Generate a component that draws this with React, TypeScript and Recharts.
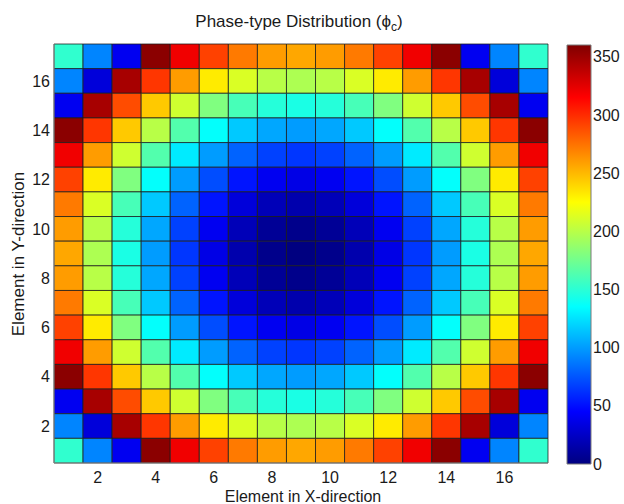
import { ComposedChart, XAxis, YAxis, Scatter, ReferenceArea } from "recharts";

// element indices along each direction
const columnIndex = [1, 2, 3, 4, 5, 6, 7, 8, 9, 10, 11, 12, 13, 14, 15, 16, 17];
const rowIndex = [1, 2, 3, 4, 5, 6, 7, 8, 9, 10, 11, 12, 13, 14, 15, 16, 17];
const xTicks = [2, 4, 6, 8, 10, 12, 14, 16];
const yTicks = [2, 4, 6, 8, 10, 12, 14, 16];
const colorTicks = [0, 50, 100, 150, 200, 250, 300, 350];

// phase value per element, rows listed from the top row (17) to the bottom row (1)
const phaseRows: number[][] = [
	[152, 92, 40, 356, 320, 292, 272, 260, 256, 260, 272, 292, 320, 356, 40, 92, 152],
	[92, 32, 346, 296, 260, 232, 212, 200, 196, 200, 212, 232, 260, 296, 346, 32, 92],
	[40, 346, 288, 244, 208, 180, 160, 148, 144, 148, 160, 180, 208, 244, 288, 346, 40],
	[356, 296, 244, 200, 164, 136, 116, 104, 100, 104, 116, 136, 164, 200, 244, 296, 356],
	[320, 260, 208, 164, 128, 100, 80, 68, 64, 68, 80, 100, 128, 164, 208, 260, 320],
	[292, 232, 180, 136, 100, 72, 52, 40, 36, 40, 52, 72, 100, 136, 180, 232, 292],
	[272, 212, 160, 116, 80, 52, 32, 20, 16, 20, 32, 52, 80, 116, 160, 212, 272],
	[260, 200, 148, 104, 68, 40, 20, 8, 4, 8, 20, 40, 68, 104, 148, 200, 260],
	[256, 196, 144, 100, 64, 36, 16, 4, 0, 4, 16, 36, 64, 100, 144, 196, 256],
	[260, 200, 148, 104, 68, 40, 20, 8, 4, 8, 20, 40, 68, 104, 148, 200, 260],
	[272, 212, 160, 116, 80, 52, 32, 20, 16, 20, 32, 52, 80, 116, 160, 212, 272],
	[292, 232, 180, 136, 100, 72, 52, 40, 36, 40, 52, 72, 100, 136, 180, 232, 292],
	[320, 260, 208, 164, 128, 100, 80, 68, 64, 68, 80, 100, 128, 164, 208, 260, 320],
	[356, 296, 244, 200, 164, 136, 116, 104, 100, 104, 116, 136, 164, 200, 244, 296, 356],
	[40, 346, 288, 244, 208, 180, 160, 148, 144, 148, 160, 180, 208, 244, 288, 346, 40],
	[92, 32, 346, 296, 260, 232, 212, 200, 196, 200, 212, 232, 260, 296, 346, 32, 92],
	[152, 92, 40, 356, 320, 292, 272, 260, 256, 260, 272, 292, 320, 356, 40, 92, 152],
];

const MAX_PHASE = 360;

const clamp = (v: number) => Math.max(0, Math.min(1, v));

// matlab "jet" colormap
const jet = (value: number) => {
	const t = clamp(value / MAX_PHASE);
	const r = clamp(Math.min(4 * t - 1.5, -4 * t + 4.5));
	const g = clamp(Math.min(4 * t - 0.5, -4 * t + 3.5));
	const b = clamp(Math.min(4 * t + 0.5, -4 * t + 2.5));
	return `rgb(${Math.round(r * 255)},${Math.round(g * 255)},${Math.round(b * 255)})`;
};

const cells = phaseRows.flatMap((row, i) =>
	row.map((value, j) => ({
		x: columnIndex[j],
		y: rowIndex[rowIndex.length - 1 - i],
		value,
	}))
);

const FONT = "'Liberation Sans', Arial, Helvetica, sans-serif";
const tickStyle = { fontSize: 16, fill: "#1a1a1a", fontFamily: FONT };

const App = () => {
	return (
		<div style={{ position: "absolute", left: 0, top: 0, width: 624, height: 504, background: "#fff" }}>
			<ComposedChart
				width={624}
				height={504}
				margin={{ top: 44, right: 76, bottom: 11, left: 14 }}
				data={cells}
				style={{ position: "absolute", left: 0, top: 0 }}
			>
				<XAxis
					dataKey="x"
					type="number"
					domain={[0.5, 17.5]}
					allowDataOverflow
					ticks={xTicks}
					height={30}
					tickLine={false}
					tickSize={7}
					tickMargin={2}
					axisLine={{ stroke: "#8a8a8a" }}
					tick={tickStyle}
				/>
				<YAxis
					dataKey="y"
					type="number"
					domain={[0.5, 17.5]}
					allowDataOverflow
					ticks={yTicks}
					width={40}
					tickLine={false}
					tickSize={2}
					tickMargin={2}
					axisLine={{ stroke: "#8a8a8a" }}
					tick={tickStyle}
				/>
				{cells.map((c) => (
					<ReferenceArea
						key={`${c.x}-${c.y}`}
						x1={c.x - 0.5}
						x2={c.x + 0.5}
						y1={c.y - 0.5}
						y2={c.y + 0.5}
						fill={jet(c.value)}
						fillOpacity={1}
						stroke="#1c1c1c"
						strokeWidth={0.9}
						strokeOpacity={0.85}
					/>
				))}
				<Scatter dataKey="y" isAnimationActive={false} shape={() => <g />} />
			</ComposedChart>

			<ComposedChart
				width={64}
				height={504}
				margin={{ top: 45, right: 0, bottom: 40, left: 7 }}
				data={colorTicks.map((v) => ({ x: 0.5, v }))}
				style={{ position: "absolute", left: 560, top: 0 }}
			>
				<defs>
					<linearGradient id="jetBar" x1="0" y1="1" x2="0" y2="0">
						{[0, 0.125, 0.25, 0.375, 0.5, 0.625, 0.75, 0.875, 1].map((o) => (
							<stop key={o} offset={o} stopColor={jet(o * MAX_PHASE)} />
						))}
					</linearGradient>
				</defs>
				<XAxis dataKey="x" type="number" domain={[0, 1]} hide />
				<YAxis
					dataKey="v"
					orientation="right"
					type="number"
					domain={[0, MAX_PHASE]}
					allowDataOverflow
					ticks={colorTicks}
					width={33}
					tickLine={false}
					tickSize={1}
					tickMargin={1}
					axisLine={false}
					tick={tickStyle}
				/>
				<ReferenceArea
					x1={0}
					x2={1}
					y1={0}
					y2={MAX_PHASE}
					fill="url(#jetBar)"
					fillOpacity={1}
					stroke="#7a7a7a"
					strokeWidth={1}
				/>
				<Scatter dataKey="v" isAnimationActive={false} shape={() => <g />} />
			</ComposedChart>

			<svg
				width={624}
				height={504}
				style={{ position: "absolute", left: 0, top: 0, pointerEvents: "none" }}
				fontFamily={FONT}
				fill="#1a1a1a"
			>
				<text x={299} y={27} fontSize={17} textAnchor="middle">
					Phase-type Distribution (ϕ
					<tspan fontSize={12} dy={4}>c</tspan>
					<tspan dy={-4}>)</tspan>
				</text>
				<text x={303} y={502} fontSize={16} textAnchor="middle">
					Element in X-direction
				</text>
				<text transform="translate(24,254) rotate(-90)" fontSize={17} textAnchor="middle">
					Element in Y-direction
				</text>
			</svg>
		</div>
	);
};

export default App;
